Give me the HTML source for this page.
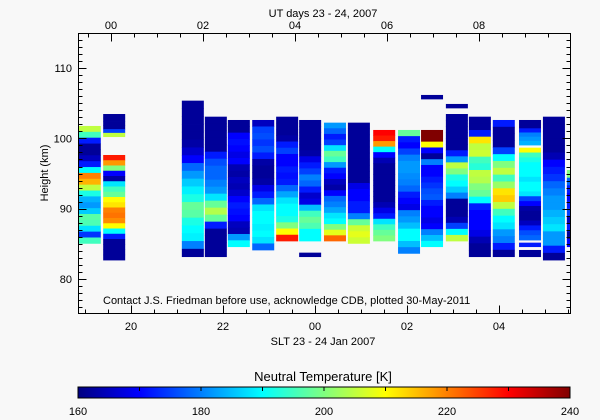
<!DOCTYPE html>
<html><head><meta charset="utf-8"><style>
html,body{margin:0;padding:0;background:#f8f8f8;}
svg{display:block;font-family:"Liberation Sans",sans-serif;}
text{fill:#000;font-size:11px;}
</style></head><body>
<svg id="chart" width="600" height="420" viewBox="0 0 600 420">
<rect x="0" y="0" width="600" height="420" fill="#f8f8f8"/>
<defs><clipPath id="plotclip"><rect x="78" y="33" width="492" height="280"/></clipPath>
<linearGradient id="jet" x1="0" x2="1" y1="0" y2="0">
<stop offset="0" stop-color="#000080"/><stop offset="0.125" stop-color="#0000ff"/><stop offset="0.375" stop-color="#00ffff"/><stop offset="0.625" stop-color="#ffff00"/><stop offset="0.875" stop-color="#ff0000"/><stop offset="1" stop-color="#800000"/></linearGradient></defs>
<g id="cells" clip-path="url(#plotclip)"></g>
<g id="axes"></g>
<text x="323" y="17" text-anchor="middle">UT days 23 - 24, 2007</text>
<text x="323" y="345" text-anchor="middle">SLT 23 - 24 Jan 2007</text>
<text x="48" y="173" text-anchor="middle" transform="rotate(-90 48 173)">Height (km)</text>
<text x="103" y="304">Contact J.S. Friedman before use, acknowledge CDB, plotted 30-May-2011</text>
<text x="323" y="381" text-anchor="middle" font-size="13" style="font-size:13px">Neutral Temperature [K]</text>
<rect x="78" y="387" width="492" height="11" fill="url(#jet)" stroke="#000" stroke-width="1"/>
<g id="cbticks"></g>
</svg>
<script>
// Column start times (UT hours), each 0.5 h wide
const colStarts = [-0.70,-0.17,1.54,2.04,2.54,3.07,3.59,4.09,4.63,5.15,5.70,6.24,6.74,7.28,7.78,8.30,8.87,9.39,9.91];
// Segments: [columnIndex, topKm, bottomKm]
const segCols = [0,1,1,2,3,4,5,6,7,7,8,9,10,11,12,12,13,13,14,15,16,16,16,16,17,18];
const segTops = [101.77,103.47,97.64,105.37,103.09,102.62,102.62,103.09,102.62,83.75,102.24,102.24,101.20,101.20,101.20,106.18,103.47,104.90,103.09,102.62,102.62,98.68,85.17,84.13,103.09,95.50];
const segBottoms = [85.07,100.25,82.70,83.18,83.18,84.60,84.13,85.41,85.41,83.18,85.41,85.07,85.41,83.65,84.60,105.61,85.41,104.33,83.18,83.18,99.06,85.55,84.60,83.18,82.70,84.60];
// Temperatures (K), top to bottom within each segment
const segTemps = [
[205,195,172,162,162,165,172,190,220,216,205,192,184,182,186,197,196,188,174,195],
[162,162,162,162,175,205],
[228,218,200,170,163,188,195,198,210,212,220,221,219,210,190,172,162,162,162,162],
[162,162,162,162,162,163,166,170,178,182,186,189,192,198,197,192,190,189,180,162],
[162,162,162,162,162,172,176,178,178,180,182,188,198,204,198,172,162,162,162,162],
[162,162,170,171,170,168,170,164,163,165,164,166,170,172,171,170,165,164,182,190],
[165,175,176,174,176,172,163,162,162,163,168,172,178,188,190,190,189,190,188,178],
[162,162,162,163,172,175,170,170,172,171,172,178,183,188,190,190,192,200,210,228],
[162,162,162,162,162,163,168,172,175,180,178,172,166,168,185,195,198,196,190,190],
[162],
[182,178,172,175,188,198,195,182,172,170,165,163,170,178,180,183,188,190,200,208,222],
[162,162,162,162,162,162,162,162,162,162,168,170,170,172,172,180,198,206,208,206],
[230,228,218,190,170,164,162,162,162,162,162,162,162,164,168,172,188,195,198,200],
[198,172,170,175,180,182,182,181,180,178,172,170,168,180,182,185,190,190,185,180],
[240,240,210,170,162,180,170,170,172,174,176,177,172,170,170,168,170,180,185,190],
[162],
[162,162,162,162,162,162,172,182,205,200,192,190,186,180,162,162,162,164,175,190,205],
[162],
[162,162,172,212,205,206,195,193,205,204,200,198,190,172,170,170,170,168,164,162,162],
[172,162,162,162,175,190,200,205,195,202,212,214,205,195,190,188,182,180,172,162],
[162,162,172,180,182,184],
[210,195,192,190,190,190,188,190,190,188,175,170,163,162,162,165,172,176,178],
[172],
[162],
[162,162,162,162,162,164,170,172,174,178,180,182,182,184,186,188,182,182,172,162],
[200,178,172,170,172,175,165,172,162,170]
];
const tMin=160,tMax=240;
const NS='http://www.w3.org/2000/svg';
function xUT(u){return 111+46*u;}
function yKm(h){return 279-(h-80)*7.03;}
function jet(v){
  let t=Math.max(0,Math.min(1,(v-tMin)/(tMax-tMin)));
  const c=a=>Math.round(255*Math.max(0,Math.min(1,1.5-Math.abs(4*t-a))));
  return `rgb(${c(3)},${c(2)},${c(1)})`;
}
const cells=document.getElementById('cells');
for(let s=0;s<segCols.length;s++){
  const u=colStarts[segCols[s]];
  const vals=segTemps[s];
  const top=segTops[s],bot=segBottoms[s];
  const dh=(top-bot)/vals.length;
  for(let i=0;i<vals.length;i++){
    const y1=yKm(top-i*dh),y2=yKm(top-(i+1)*dh);
    const r=document.createElementNS(NS,'rect');
    r.setAttribute('x',xUT(u).toFixed(2));
    r.setAttribute('width',(xUT(u+0.5)-xUT(u)-1).toFixed(2));
    r.setAttribute('y',y1.toFixed(2));
    r.setAttribute('height',(y2-y1+0.4).toFixed(2));
    r.setAttribute('fill',jet(vals[i]));
    
    
    cells.appendChild(r);
  }
}
// Axes
const yTicks=[80,90,100,110];
const utLabels=['00','02','04','06','08'];
const utTickVals=[0,2,4,6,8];
const sltLabels=['20','22','00','02','04'];
const sltOffsetPx=20;
const ax=document.getElementById('axes');
function line(x1,y1,x2,y2,name){
  const l=document.createElementNS(NS,'line');
  l.setAttribute('x1',x1);l.setAttribute('y1',y1);l.setAttribute('x2',x2);l.setAttribute('y2',y2);
  l.setAttribute('stroke','#000');l.setAttribute('stroke-width','1');
  
  
  ax.appendChild(l);
}
function txt(x,y,s,anchor,name){
  const t=document.createElementNS(NS,'text');
  t.setAttribute('x',x);t.setAttribute('y',y);t.setAttribute('text-anchor',anchor);t.textContent=s;
  
  
  ax.appendChild(t);
}
const L=78.5,R=570.5,T=33.5,B=313.5;
const fr=document.createElementNS(NS,'rect');
fr.setAttribute('x',L);fr.setAttribute('y',T);fr.setAttribute('width',R-L);fr.setAttribute('height',B-T);
fr.setAttribute('fill','none');fr.setAttribute('stroke','#000');


ax.appendChild(fr);
for(let h=76;h<=114;h++){
  const y=Math.round(yKm(h))+0.5;
  if(y<T||y>B)continue;
  const len=(h%10===0)?8:4;
  line(L,y,L+len,y,'y-tick');line(R,y,R-len,y,'y-tick-right');
}
yTicks.forEach(h=>txt(72,yKm(h)+4,String(h),'end','y-tick-label'));
for(let u=-1;u<=10;u+=0.5){
  const x=Math.round(xUT(u))+0.5;
  if(x<L||x>R)continue;
  const major=(Math.abs(u%2)<1e-6);
  line(x,T,x,T+(major?8:4),'top-tick');
}
utTickVals.forEach((u,i)=>txt(xUT(u),29,utLabels[i],'middle','top-tick-label'));
for(let u=-1;u<=10;u+=0.5){
  const x=Math.round(xUT(u)+sltOffsetPx)+0.5;
  if(x<L||x>R)continue;
  const major=(Math.abs(u%2)<1e-6);
  line(x,B,x,B-(major?8:4),'bottom-tick');
}
utTickVals.forEach((u,i)=>txt(xUT(u)+sltOffsetPx,330,sltLabels[i],'middle','bottom-tick-label'));
// colorbar ticks
const cbVals=[160,180,200,220,240];
const cb=document.getElementById('cbticks');
function cbx(v){return 78+(v-tMin)/(tMax-tMin)*492;}
[170,180,190,200,210,220,230].forEach(v=>{
  const l=document.createElementNS(NS,'line');
  l.setAttribute('x1',cbx(v));l.setAttribute('x2',cbx(v));l.setAttribute('y1',387);l.setAttribute('y2',391);
  l.setAttribute('stroke','#000');
  
  
  cb.appendChild(l);
});
cbVals.forEach(v=>{
  const t=document.createElementNS(NS,'text');
  t.setAttribute('x',cbx(v));t.setAttribute('y',415);t.setAttribute('text-anchor','middle');t.textContent=String(v);
  
  
  cb.appendChild(t);
});
</script>
</body></html>
